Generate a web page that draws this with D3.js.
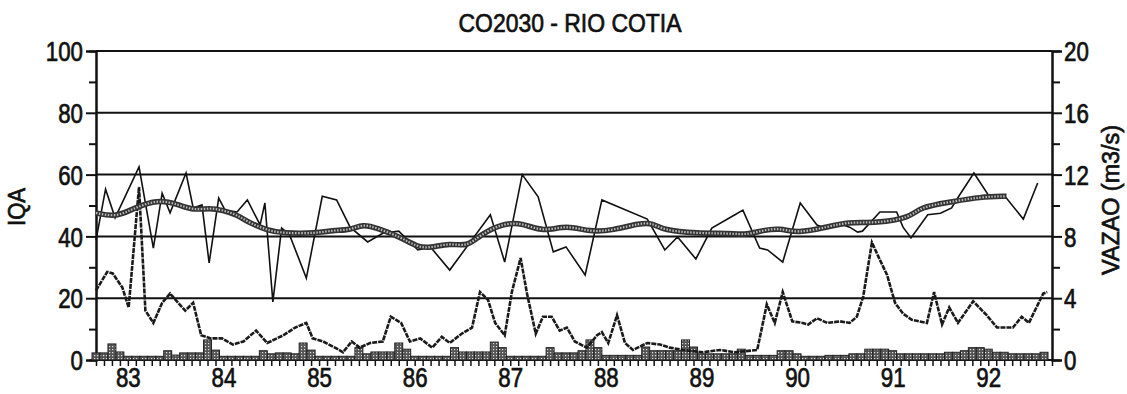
<!DOCTYPE html>
<html>
<head>
<meta charset="utf-8">
<script src="https://cdn.jsdelivr.net/npm/d3@7"></script>
<style>
  body { margin: 0; background: #fff; }
  svg text { font-family: "Liberation Sans", Arial, sans-serif; fill: #111; stroke: #111; stroke-width: 0.7px; }
</style>
</head>
<body>
<svg id="chart" width="1127" height="394"></svg>
<script>
// meses contados a partir de set/1982 (0) ate set/1992 (120)
var anos = ["83", "84", "85", "86", "87", "88", "89", "90", "91", "92"];
var anoMeses = [4, 16, 28, 40, 52, 64, 76, 88, 100, 112];

// IQA mensal (linha fina)
var iqaMeses = [0, 1.2, 2.4, 5.4, 7.2, 8.3, 9.3, 11.3, 12.2, 13.3, 14.2, 15.4, 16.2, 17.7, 19, 20.6, 21.2, 22.2, 23.3, 24.3,
  26.4, 28.4, 30.2, 31.9, 34.1, 36, 38, 40.4, 42, 44.4, 49.5, 51.3, 53.5, 55.5, 57.4, 59, 61.4, 63.5, 69.2, 71.4,
  73, 75.3, 77.3, 80.2, 81.2, 83.3, 84.3, 86.2, 88.4, 90.5, 91.5, 93.8, 94.6, 95.6, 96.2, 98.4, 100.5, 101.3, 102.3, 103,
  104.4, 106, 107.4, 108.4, 110.2, 112, 112.5, 114.1, 116.4, 118.2];
var iqaValores = [38.8, 55.3, 46, 62.5, 36.2, 54, 47.6, 60.5, 49.2, 50.2, 31.4, 52.4, 48.5, 47.9, 51.8, 43.7, 50.8, 18.8, 42.7, 40.5,
  26.5, 53, 51.8, 43, 38.2, 41, 41.7, 35.6, 36.5, 29.1, 47, 31.7, 60, 52.8, 35, 36.6, 27.5, 51.8, 45.6, 35.6,
  39.8, 32.7, 42.7, 47, 48.5, 36.2, 35.6, 31.7, 50.8, 43.7, 42.7, 43.7, 43, 41.4, 41.7, 47.9, 47.9, 43, 39.5, 42,
  47, 47.5, 49.2, 53.4, 60.5, 53.4, 52.5, 53, 45.6, 57.3];

// media movel do IQA (linha grossa)
var mediaMeses = [0, 2.4, 4.3, 5.9, 8, 10.5, 12.2, 14.3, 15.9, 17.7, 19.3, 21.5, 23.5, 27.7, 29.7, 31.9, 33.5, 35.3, 38.2, 40.3,
  41.9, 44.4, 46.6, 48.2, 51.1, 53.6, 56.1, 59.1, 62, 64.9, 68.3, 69.9, 71.2, 75.4, 79.6, 81.7, 83.7, 85.9, 88, 91.8,
  94.3, 98, 102.2, 103.4, 107.2, 111, 114.3];
var mediaValores = [47.6, 46.3, 48.5, 50.2, 51.8, 50.2, 48.5, 49.2, 48.5, 47, 44.3, 42, 41, 41, 42, 42, 44, 42.7, 39.8, 36.6,
  36.2, 37.9, 36.6, 40.5, 44.3, 44.3, 41.4, 43.7, 41.4, 42, 44.3, 44.3, 42, 41, 41, 40.5, 42, 42.7, 41, 43,
  44.7, 44.3, 46, 49.5, 51.1, 52.8, 53];

// vazao (m3/s), eixo da direita
var vazaoMeses = [0, 1.4, 2.1, 3.3, 4.1, 5.4, 6.2, 7.2, 8.3, 9.3, 10.3, 11.2, 12.2, 13.2, 14.4, 15.8, 17.2, 18.5, 20.1, 21.5,
  23.5, 25, 26.4, 27.2, 28.5, 30, 31, 32.1, 33.1, 34.4, 36, 37, 38.3, 39.4, 40.7, 42.2, 43.4, 44.4, 45.9, 47.2,
  48.2, 49.2, 50.1, 51.3, 52.2, 53.3, 54.1, 55.2, 56.1, 57.2, 58.2, 59.1, 60.1, 61.6, 62.9, 63.5, 64.3, 65.4, 66.4, 67.4,
  69.2, 70.8, 72, 73.7, 76.2, 78.3, 80.2, 83, 84.2, 85.2, 86.2, 87.4, 88.7, 89.4, 90.5, 91.8, 93.4, 94.6, 95.5, 96.3,
  97.4, 98.2, 99.3, 100.3, 101.3, 102.4, 104.3, 105.2, 106.2, 107.1, 108.2, 110.1, 111.8, 113.1, 115.1, 116.2, 117.1, 118.9, 119.4];
var vazaoValores = [4.5, 5.7, 5.6, 4.7, 3.4, 11.2, 3.2, 2.4, 3.7, 4.3, 3.7, 3.2, 3.7, 1.6, 1.4, 1.4, 1.0, 1.2, 1.9, 1.1,
  1.6, 2.1, 2.4, 1.4, 1.2, 0.8, 0.5, 1.2, 0.8, 1.1, 1.2, 2.8, 2.4, 1.2, 1.4, 0.8, 1.5, 1.1, 1.7, 2.1,
  4.4, 3.9, 2.4, 1.6, 4.4, 6.6, 4.3, 1.7, 2.8, 2.8, 1.9, 2.1, 1.2, 0.8, 1.6, 1.8, 1.1, 2.9, 1.1, 0.65,
  1.1, 1.0, 0.8, 0.65, 0.5, 0.65, 0.5, 0.65, 3.6, 2.4, 4.4, 2.5, 2.4, 2.3, 2.7, 2.4, 2.5, 2.4, 2.8, 4.1,
  7.6, 6.7, 5.5, 3.7, 3.0, 2.6, 2.4, 4.4, 2.3, 3.4, 2.4, 3.8, 2.9, 2.1, 2.1, 2.8, 2.4, 4.3, 4.4];

// barras mensais no rodape (unidades do eixo IQA)
var barrasValores = [2.3, 2.3, 5.2, 2.6, 1.2, 1.2, 1.2, 1.2, 1.2, 3, 1.6, 2.3, 2.3, 2.3, 6.5, 3.2, 1.2, 1.2, 1.2, 1.2,
  1.2, 3, 2, 2.3, 2.3, 2, 5.5, 3.2, 1.2, 1.2, 1.2, 1.2, 1.2, 4, 2, 2.6, 2.6, 2.6, 5.5, 3.5,
  1.2, 1.2, 1.2, 1.2, 1.2, 4, 2.6, 2.6, 2.6, 2.6, 5.8, 4, 1.2, 1.2, 1.2, 1.2, 1.2, 4, 2.3, 2.3,
  2.3, 3, 6.5, 4, 1.5, 1.5, 1.5, 1.5, 1.5, 4.2, 3, 3, 3, 3, 6.5, 4.2, 2, 2, 2, 2,
  2, 3.5, 1.5, 1.5, 1.5, 1.5, 3, 3, 2, 1.2, 1.2, 1.2, 1.5, 1.5, 1.5, 2, 2, 3.5, 3.5, 3.5,
  3, 2, 2, 2, 2, 2, 2, 2.5, 2.5, 3, 4, 4, 3.5, 2.5, 2.5, 2, 2, 2, 2, 2.5];

var svg = d3.select("#chart");
var mLeft = 96, mRight = 1052, mTop = 51, mBottom = 360;

var x = d3.scaleLinear().domain([0, 120]).range([mLeft, mRight]);
var yIqa = d3.scaleLinear().domain([0, 100]).range([mBottom, mTop]);
var yVazao = d3.scaleLinear().domain([0, 20]).range([mBottom, mTop]);

// padrao pontilhado das barras
var pat = svg.append("defs").append("pattern")
  .attr("id", "pontos").attr("width", 3).attr("height", 3)
  .attr("patternUnits", "userSpaceOnUse");
pat.append("rect").attr("width", 3).attr("height", 3).attr("fill", "#555");
pat.append("rect").attr("x", 1).attr("y", 1).attr("width", 1.2).attr("height", 1.2).attr("fill", "#ddd");

// texto estreito (tipo Arial Narrow)
function estreito(sel, porChar) {
  sel.each(function() {
    var t = d3.select(this);
    t.attr("textLength", t.text().length * porChar).attr("lengthAdjust", "spacingAndGlyphs");
  });
}

// titulo
svg.append("text")
  .attr("x", 570).attr("y", 32)
  .attr("text-anchor", "middle")
  .style("font-size", "26px")
  .attr("textLength", 223).attr("lengthAdjust", "spacingAndGlyphs")
  .text("CO2030 - RIO COTIA");

// linhas de grade horizontais
svg.append("g")
  .selectAll("line")
  .data([0, 20, 40, 60, 80, 100])
  .join("line")
  .attr("x1", mLeft).attr("x2", mRight)
  .attr("y1", d => yIqa(d)).attr("y2", d => yIqa(d))
  .attr("stroke", "#111").attr("stroke-width", 2);

// eixo esquerdo
var gl = svg.append("g").attr("transform", "translate(" + mLeft + ",0)");
gl.call(d3.axisLeft(yIqa).tickValues([0, 20, 40, 60, 80, 100]).tickSize(10).tickPadding(3));
gl.selectAll(".tick text").style("font-size", "27px").attr("dy", "0.36em").call(estreito, 12.4);
svg.append("g").attr("transform", "translate(" + mLeft + ",0)")
  .call(d3.axisLeft(yIqa).tickValues([10, 30, 50, 70, 90]).tickSize(7).tickFormat(""));

// eixo direito
var gr = svg.append("g").attr("transform", "translate(" + mRight + ",0)");
gr.call(d3.axisRight(yVazao).tickValues([0, 4, 8, 12, 16, 20]).tickSize(10).tickPadding(2));
gr.selectAll(".tick text").style("font-size", "27px").attr("dy", "0.36em").call(estreito, 12.4);
svg.append("g").attr("transform", "translate(" + mRight + ",0)")
  .call(d3.axisRight(yVazao).tickValues([2, 6, 10, 14, 18]).tickSize(8).tickFormat(""));

svg.selectAll(".domain").attr("stroke", "#111").attr("stroke-width", 2);
svg.selectAll(".tick line").attr("stroke", "#111").attr("stroke-width", 2);

// eixo x: marcas mensais e rotulos dos anos
var gx = svg.append("g").attr("transform", "translate(0," + mBottom + ")");
gx.call(d3.axisBottom(x).tickValues(d3.range(0, 121)).tickSize(6).tickFormat(""));
gx.select(".domain").remove();
gx.selectAll(".tick line").attr("stroke", "#111").attr("stroke-width", 1.5);
var gxl = svg.append("g").attr("transform", "translate(0," + mBottom + ")");
gxl.call(d3.axisBottom(x).tickValues(anoMeses).tickSize(0).tickPadding(8)
  .tickFormat((d, i) => anos[i]));
gxl.select(".domain").remove();
gxl.selectAll(".tick text").style("font-size", "27px").call(estreito, 12.4);

// titulos dos eixos
svg.append("text")
  .attr("transform", "translate(25,207) rotate(-90)")
  .attr("text-anchor", "middle")
  .style("font-size", "23px")
  .attr("textLength", 38).attr("lengthAdjust", "spacingAndGlyphs")
  .text("IQA");
svg.append("text")
  .attr("transform", "translate(1119,200) rotate(-90)")
  .attr("text-anchor", "middle")
  .style("font-size", "23px")
  .attr("textLength", 150).attr("lengthAdjust", "spacingAndGlyphs")
  .text("VAZAO (m3/s)");

// barras
var bw = x(1) - x(0);
svg.append("g")
  .selectAll("rect")
  .data(barrasValores)
  .join("rect")
  .attr("x", (d, i) => x(i) - bw / 2)
  .attr("width", bw)
  .attr("y", d => yIqa(d))
  .attr("height", d => yIqa(0) - yIqa(d))
  .attr("fill", "url(#pontos)")
  .attr("stroke", "#222")
  .attr("stroke-width", 1);

// linha de vazao
var vazaoDados = vazaoMeses.map((m, i) => [m, vazaoValores[i]]);
var linhaVazao = d3.line().x(d => x(d[0])).y(d => yVazao(d[1]));
svg.append("path").datum(vazaoDados)
  .attr("d", linhaVazao)
  .attr("fill", "none").attr("stroke", "#1a1a1a").attr("stroke-width", 2.6)
  .attr("stroke-dasharray", "5,1");

// IQA mensal
var iqaDados = iqaMeses.map((m, i) => [m, iqaValores[i]]);
var linhaIqa = d3.line().x(d => x(d[0])).y(d => yIqa(d[1]));
svg.append("path").datum(iqaDados)
  .attr("d", linhaIqa)
  .attr("fill", "none").attr("stroke", "#111").attr("stroke-width", 1.6);

// media movel
var mediaDados = mediaMeses.map((m, i) => [m, mediaValores[i]]);
var linhaMedia = d3.line().curve(d3.curveBasis).x(d => x(d[0])).y(d => yIqa(d[1]));
svg.append("path").datum(mediaDados)
  .attr("d", linhaMedia)
  .attr("fill", "none").attr("stroke", "#333").attr("stroke-width", 5.5);
svg.append("path").datum(mediaDados)
  .attr("d", linhaMedia)
  .attr("fill", "none").attr("stroke", "#bbb").attr("stroke-width", 2.2)
  .attr("stroke-dasharray", "1.5,1.5");
</script>
</body>
</html>
